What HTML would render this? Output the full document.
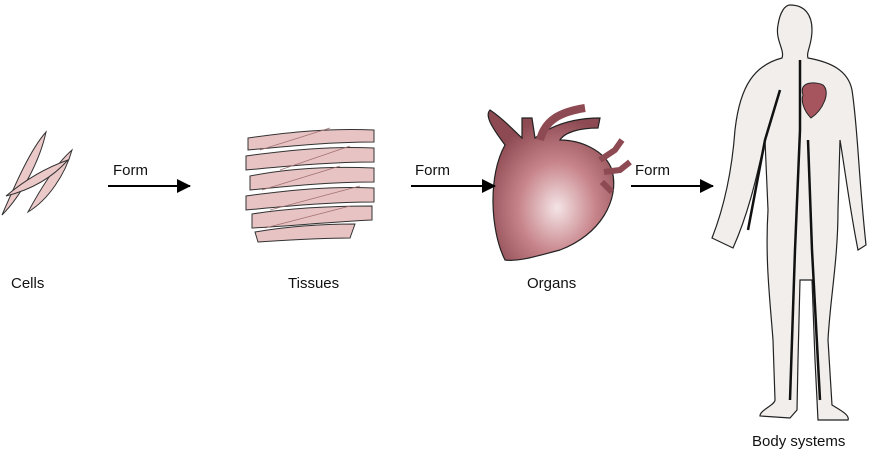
<!DOCTYPE html>
<html><head><meta charset="utf-8"><style>
html,body{margin:0;padding:0;background:#fff;width:871px;height:451px;overflow:hidden}
svg{display:block}
text{font-family:"Liberation Sans",sans-serif;font-size:15px;fill:#111}
</style></head><body>
<svg width="871" height="451" viewBox="0 0 871 451">
<defs>
<radialGradient id="hg" cx="0.55" cy="0.65" r="0.6">
<stop offset="0" stop-color="#f4e4e6"/><stop offset="0.5" stop-color="#c8868c"/><stop offset="1" stop-color="#8e4a52"/>
</radialGradient>
<marker id="ah" markerWidth="14" markerHeight="14" refX="13" refY="7" orient="auto" markerUnits="userSpaceOnUse"><path d="M0,0 L14,7 L0,14 z" fill="#000"/></marker>
</defs>
<!-- Cells -->
<g fill="#ecc9c9" stroke="#333" stroke-width="1">
<path d="M2,215 C15,185 30,150 46,132 C40,160 22,195 2,215 z"/>
<path d="M28,212 C40,190 55,165 72,150 C65,175 48,200 28,212 z"/>
<path d="M6,196 C25,180 45,168 68,160 C52,178 30,190 6,196 z"/>
</g>
<!-- Tissues -->
<g fill="#e8c3c3" stroke="#333" stroke-width="1">
<path d="M248,138 C290,132 330,128 374,130 L374,142 C330,142 290,146 248,150 z"/>
<path d="M246,156 C290,150 330,146 374,148 L374,162 C330,162 290,166 246,170 z"/>
<path d="M250,176 C290,168 330,166 374,168 L374,182 C330,182 290,186 250,190 z"/>
<path d="M246,196 C290,190 330,186 374,188 L374,202 C330,202 290,206 246,210 z"/>
<path d="M252,214 C290,208 330,206 372,206 L372,220 C330,222 290,226 252,228 z"/>
<path d="M255,232 C290,226 320,224 355,224 L350,238 C320,238 290,240 258,242 z"/>
</g>
<g stroke="#a07070" stroke-width="0.7" fill="none">
<path d="M260,150 L330,128 M280,170 L350,146 M262,190 L340,166 M270,210 L360,186 M265,228 L350,206"/>
</g>
<!-- Heart -->
<path d="M505,260 C490,230 488,175 505,145 C490,125 485,115 490,110 C505,120 515,132 522,138 L522,118 L532,118 L535,138 C548,128 568,118 600,118 L598,128 C580,128 565,132 560,140 C580,140 605,150 612,170 C620,200 600,235 560,250 C540,255 520,262 505,260 z" fill="url(#hg)" stroke="#222" stroke-width="1.2"/>
<path d="M540,140 C545,120 560,112 585,108" stroke="#8e4a52" stroke-width="8" fill="none"/>
<path d="M600,160 L615,150 L622,140 M604,172 L620,170 L630,162 M602,182 L612,192" stroke="#8e4a52" stroke-width="6" fill="none"/>
<!-- Body -->
<path d="M790,5 C805,5 812,15 812,30 C812,45 806,52 808,58 C830,62 848,70 852,90 C858,130 858,170 866,245 L858,250 C850,210 845,170 840,140 L838,210 C838,260 830,300 828,340 L832,405 C840,410 850,415 848,420 L818,420 L815,360 L812,280 L800,280 L798,360 L797,410 L790,418 L760,416 C760,410 775,405 775,400 L773,340 C770,300 765,260 768,210 L765,140 C758,170 750,210 733,248 L712,238 C725,205 732,170 735,130 C740,85 755,65 782,58 C785,50 775,40 778,25 C780,12 785,5 790,5 z" fill="#f1eeec" stroke="#222" stroke-width="1.2"/>
<path d="M800,60 L800,130 L795,250 L790,400 M808,140 L812,250 L820,400 M780,90 L765,140 L748,230" stroke="#111" stroke-width="2.5" fill="none"/>
<path d="M803,95 C798,80 818,82 823,85 C831,92 823,110 811,118 C803,110 801,100 803,95 z" fill="#a6555e" stroke="#222"/>
<!-- Arrows -->
<g stroke="#000" stroke-width="2" marker-end="url(#ah)">
<line x1="108" y1="186" x2="190" y2="186"/>
<line x1="411" y1="186" x2="495" y2="186"/>
<line x1="631" y1="186" x2="713" y2="186"/>
</g>
<text x="113" y="175">Form</text>
<text x="415" y="175">Form</text>
<text x="635" y="175">Form</text>
<text x="11" y="288">Cells</text>
<text x="288" y="288">Tissues</text>
<text x="527" y="288">Organs</text>
<text x="752" y="446">Body systems</text>
</svg>
</body></html>
